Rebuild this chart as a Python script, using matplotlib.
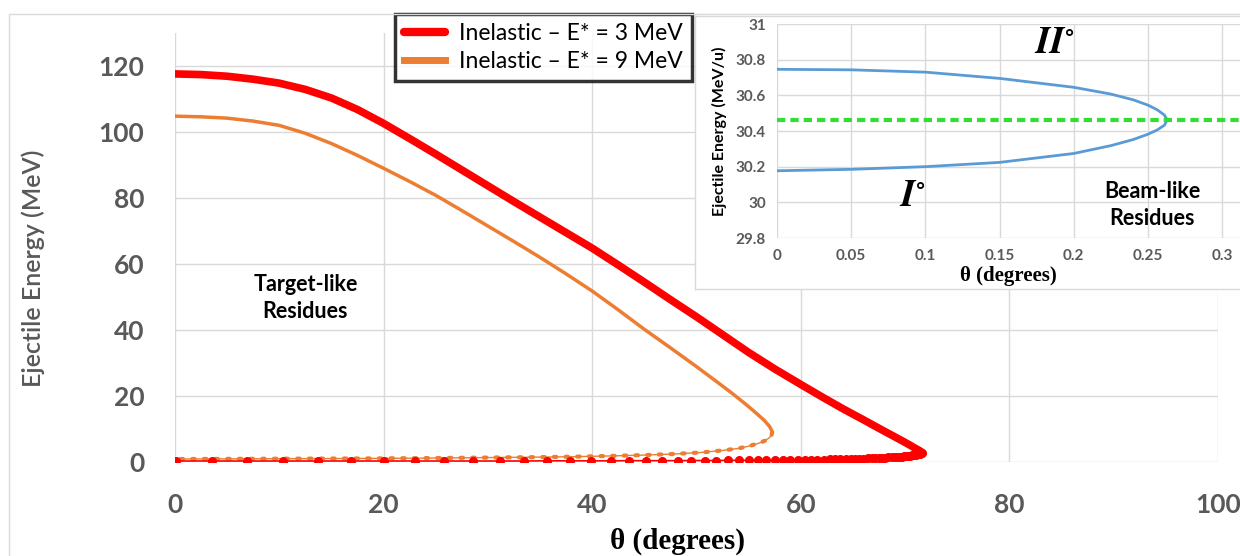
import matplotlib
matplotlib.use('Agg')

import matplotlib.pyplot as plt
from matplotlib.patches import Rectangle

# ---- data ----
# E* = 3 MeV, upper branch (degrees, MeV)
red_up_theta = [0, 2.5, 5, 7.5, 10, 12.5, 15, 17.5, 20, 22.5,
                25, 27.5, 30, 32.5, 35, 37.5, 40, 42.5, 45, 47.5,
                50, 52.5, 55, 57.5, 60, 62, 64, 66, 67.5, 68.5,
                69.5, 70.3, 70.9, 71.3, 71.6, 71.7]
red_up_E = [117.6, 117.4, 116.9, 116.0, 114.8, 112.9, 110.3, 106.8, 102.6, 98.0,
            93.3, 88.5, 83.7, 78.9, 74.2, 69.5, 64.8, 59.7, 54.5, 49.2,
            44.0, 38.6, 33.2, 28.2, 23.5, 19.8, 16.2, 12.8, 10.2, 8.5,
            6.8, 5.4, 4.3, 3.6, 3.0, 2.7]

# E* = 3 MeV, lower branch (the marker points)
red_low_theta = [0.1, 3.5, 6.9, 10.4, 13.7, 16.9, 20.0, 23.0, 25.8, 28.6,
                 31.2, 33.5, 35.7, 37.9, 39.9, 41.8, 43.5, 45.2, 46.7, 48.2,
                 49.5, 50.8, 51.9, 53.0, 54.1, 55.0, 55.9, 56.7, 57.5, 58.3,
                 59.0, 59.7, 60.4, 61.0, 61.6, 62.2, 62.8, 63.3, 63.8, 64.3,
                 64.8, 65.2, 65.6, 66.0, 66.4, 66.8, 67.1, 67.5, 67.8, 68.1,
                 68.4, 68.7, 69.0, 69.2, 69.5, 69.7, 69.9, 70.1, 70.3, 70.5,
                 70.7, 70.9, 71.0, 71.2, 71.3, 71.4, 71.5, 71.6]
red_low_E = [0.3, 0.3, 0.3, 0.3, 0.3, 0.3, 0.3, 0.3, 0.3, 0.3,
             0.3, 0.3, 0.35, 0.35, 0.35, 0.35, 0.4, 0.4, 0.4, 0.4,
             0.45, 0.45, 0.45, 0.5, 0.5, 0.5, 0.55, 0.55, 0.6, 0.6,
             0.65, 0.65, 0.7, 0.7, 0.75, 0.75, 0.8, 0.85, 0.85, 0.9,
             0.95, 1.0, 1.0, 1.05, 1.1, 1.15, 1.2, 1.25, 1.3, 1.35,
             1.4, 1.45, 1.5, 1.55, 1.6, 1.65, 1.7, 1.8, 1.85, 1.95,
             2.05, 2.15, 2.2, 2.3, 2.4, 2.5, 2.6, 2.75]

# E* = 9 MeV
orange_up_theta = [0, 2.5, 5, 7.5, 10, 12.5, 15, 17.5, 20, 22.5,
                   25, 27.5, 30, 32.5, 35, 37.5, 40, 42.5, 45, 47.5,
                   50, 52, 53.5, 54.8, 55.8, 56.5, 57.0, 57.2, 57.25]
orange_up_E = [104.8, 104.6, 104.2, 103.3, 102.0, 99.6, 96.5, 92.9, 89.0, 85.0,
               80.8, 76.2, 71.5, 66.8, 62.0, 57.0, 51.8, 46.1, 40.2, 34.6,
               28.9, 24.2, 20.6, 17.3, 14.6, 12.6, 10.8, 9.6, 9.0]
orange_low_theta = [57.25, 57.2, 57.0, 56.6, 56.0, 55.0, 54.0, 52.5, 50.5, 48,
                    45, 42, 38, 34, 30, 25, 20, 15, 10, 5, 0]
orange_low_E = [9.0, 8.2, 7.4, 6.5, 5.7, 4.8, 4.1, 3.5, 2.9, 2.45,
                2.1, 1.85, 1.6, 1.45, 1.35, 1.2, 1.1, 1.05, 1.0, 0.95, 0.9]

# inset: beam-like residues (degrees, MeV/u)
inset_theta = [0, 0.05, 0.1, 0.15, 0.2, 0.225, 0.24, 0.25, 0.256, 0.261, 0.263,
               0.261, 0.256, 0.25, 0.24, 0.225, 0.2, 0.15, 0.1, 0.05, 0]
inset_E = [30.746, 30.743, 30.73, 30.695, 30.645, 30.607, 30.575, 30.545, 30.52, 30.49, 30.462,
           30.432, 30.405, 30.382, 30.352, 30.318, 30.274, 30.224, 30.2, 30.185, 30.177]
inset_limit = 30.46

main_xticks = [0, 20, 40, 60, 80, 100]
main_yticks = [0, 20, 40, 60, 80, 100, 120]
inset_xticks = [0, 0.05, 0.1, 0.15, 0.2, 0.25, 0.3]
inset_xlabels = ['0', '0.05', '0.1', '0.15', '0.2', '0.25', '0.3']
inset_yticks = [29.8, 30, 30.2, 30.4, 30.6, 30.8, 31]
inset_ylabels = ['29.8', '30', '30.2', '30.4', '30.6', '30.8', '31']

RED = '#FF0000'
ORANGE = '#ED7D31'
GREY = '#595959'
GRID = '#D9D9D9'
SANS = ['Lato', 'DejaVu Sans']
SERIF = ['Liberation Serif', 'DejaVu Serif']

plt.rcParams['font.family'] = SANS

W, H = 1240, 556
fig = plt.figure(figsize=(W / 100, H / 100), dpi=100)

# chart area border (only top/left visible)
fig.patches.append(Rectangle((9 / W, -0.1), 1.2, 1 - 14 / H + 0.1, transform=fig.transFigure,
                             facecolor='none', edgecolor=GRID, lw=1, clip_on=False))

# ---- main chart ----
ax = fig.add_axes([175 / W, 1 - 462 / H, (1218 - 175) / W, (462 - 33) / H])
ax.plot(red_up_theta, red_up_E, color=RED, lw=5.5, solid_capstyle='round',
        solid_joinstyle='round', zorder=4, label='Inelastic – E* = 3 MeV')
ax.plot(red_low_theta, red_low_E, color=RED, lw=1.2, marker='o', ms=5.5, mec=RED, zorder=4)
ax.plot(orange_up_theta, orange_up_E, color=ORANGE, lw=2.5, solid_joinstyle='round',
        zorder=3, label='Inelastic – E* = 9 MeV')
ax.plot(orange_low_theta, orange_low_E, color=ORANGE, lw=1.0, zorder=3)
ax.plot(orange_low_theta, orange_low_E, color=ORANGE, lw=3, ls=(0, (0.6, 2.2)),
        dash_capstyle='round', zorder=3)

ax.set_xlim(0, 100)
ax.set_ylim(0, 130)
ax.set_xticks(main_xticks)
ax.set_yticks(main_yticks)
ax.grid(True, color=GRID, lw=1)
ax.set_axisbelow(True)
for s in ax.spines.values():
    s.set_visible(False)
ax.tick_params(length=0, labelsize=19, labelcolor=GREY, pad=22)
for lab in ax.get_xticklabels() + ax.get_yticklabels():
    lab.set_fontweight('bold')

fig.text(33 / W, 1 - 268 / H, 'Ejectile Energy (MeV)', rotation=90, ha='center', va='center',
         fontsize=18, fontweight='semibold', color=GREY)
fig.text(677 / W, 1 - 541 / H, 'θ (degrees)', ha='center', va='center',
         fontsize=21, fontweight='bold', family=SERIF, color='black')

ax.text(12.5, 49.7, 'Target-like\nResidues', ha='center', va='center', fontsize=15.5,
        fontweight='bold', linespacing=1.3)

leg = ax.legend(loc='upper left', bbox_to_anchor=(395 / W, 1 - 14 / H), bbox_transform=fig.transFigure,
                fontsize=16.5, frameon=True, fancybox=False, handlelength=1.8, handletextpad=0.6,
                borderpad=0.4, labelspacing=0.3, borderaxespad=0)
leg.get_frame().set_edgecolor('black')
leg.get_frame().set_linewidth(2.5)
for h in leg.get_lines():
    h.set_linewidth(6)
leg.get_lines()[1].set_linewidth(5)
leg.set_zorder(10)

# ---- inset ----
bg = fig.add_axes([695 / W, 1 - 289 / H, (W - 695 + 5) / W, (289 - 16) / H])
bg.set_xticks([])
bg.set_yticks([])
for s in bg.spines.values():
    s.set_color(GRID)
    s.set_linewidth(1)
bg.set_zorder(5)

ins = fig.add_axes([777 / W, 1 - 238 / H, (W - 777) / W, (238 - 24) / H])
ins.set_zorder(6)
ins.plot(inset_theta, inset_E, color='#5B9BD5', lw=2, solid_joinstyle='round')
ins.axhline(inset_limit, color='#33DD33', lw=3, ls=(0, (2, 1.2)))
ins.set_xlim(0, 0.312)
ins.set_ylim(29.8, 31)
ins.set_xticks(inset_xticks)
ins.set_xticklabels(inset_xlabels)
ins.set_yticks(inset_yticks)
ins.set_yticklabels(inset_ylabels)
ins.grid(True, color=GRID, lw=1)
ins.set_axisbelow(True)
for s in ins.spines.values():
    s.set_visible(False)
ins.tick_params(length=0, labelsize=11, labelcolor=GREY, pad=8)
for lab in ins.get_xticklabels() + ins.get_yticklabels():
    lab.set_fontweight('bold')
ins.set_ylabel('Ejectile Energy (MeV/u)', fontsize=11.5, fontweight='bold', labelpad=6)
ins.set_xlabel('θ (degrees)', fontsize=15, fontweight='bold', family=SERIF, labelpad=2)

ins.text(0.187, 30.9, r'$\mathbfit{II}^{\circ}$', math_fontfamily='stix', fontsize=27,
         ha='center', va='center')
ins.text(0.091, 30.04, r'$\mathbfit{I}^{\circ}$', math_fontfamily='stix', fontsize=27,
         ha='center', va='center')
ins.text(0.2527, 29.985, 'Beam-like\nResidues', ha='center', va='center', fontsize=15.5,
         fontweight='bold', linespacing=1.3)

fig.savefig('out.png', dpi=100)
